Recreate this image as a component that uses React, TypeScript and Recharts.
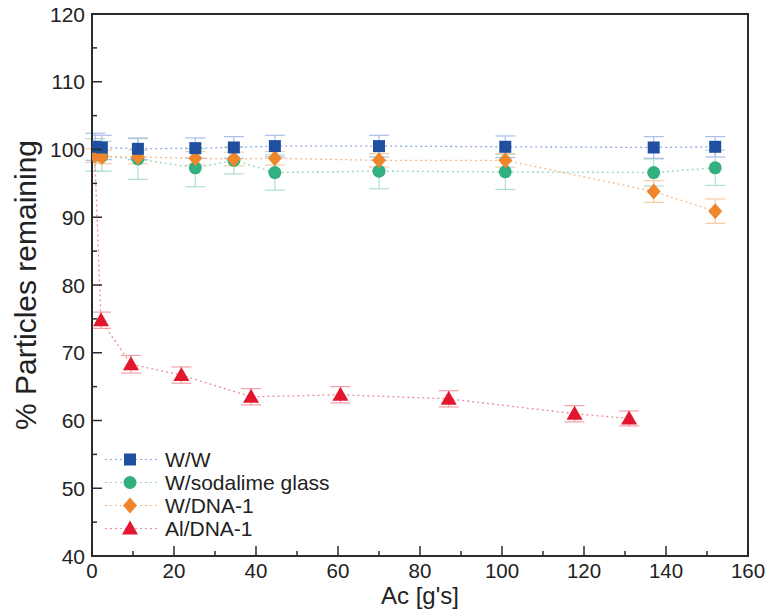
import React from "react";
import {
  ScatterChart, Scatter, XAxis, YAxis, ErrorBar, ReferenceArea, Legend, Label,
} from "recharts";

// acceleration [g's] for the three W runs and the Al run
const accelW = [0.8, 2.4, 11.2, 25.2, 34.6, 44.6, 70, 100.8, 137, 152];
const accelAl = [0.6, 2.2, 9.5, 21.8, 38.8, 60.6, 87, 117.7, 131];

const wwValues = [100.4, 100.3, 100.1, 100.2, 100.3, 100.5, 100.5, 100.4, 100.3, 100.4];
const wwErr = [2, 1.8, 1.6, 1.5, 1.6, 1.6, 1.6, 1.6, 1.6, 1.5];
const sodaValues = [99.2, 99.0, 98.6, 97.3, 98.4, 96.6, 96.8, 96.7, 96.6, 97.3];
const sodaErr = [2.4, 2.2, 3, 2.8, 2, 2.6, 2.6, 2.6, 2, 2.6];
const dnaValues = [99.1, 98.9, 98.9, 98.7, 98.6, 98.7, 98.4, 98.4, 93.8, 90.9];
const dnaErr = [1, 1, 1, 1, 1, 1, 1, 1, 1.6, 1.8];
const alValues = [100, 74.8, 68.3, 66.7, 63.5, 63.8, 63.2, 61, 60.3];
const alErr = [0, 1.2, 1.3, 1.2, 1.2, 1.2, 1.2, 1.2, 1.1];

const xTicks = [0, 10, 20, 30, 40, 50, 60, 70, 80, 90, 100, 110, 120, 130, 140, 150, 160];
const yTicks = [40, 45, 50, 55, 60, 65, 70, 75, 80, 85, 90, 95, 100, 105, 110, 115, 120];

const AXIS = "#2b2b2b";
const FONT = "'Liberation Sans', Arial, sans-serif";

const toRows = (xs: number[], ys: number[], errs: number[]) =>
  xs.map((x, i) => ({ x, y: ys[i], err: errs[i] }));

const Marker = ({ kind, cx, cy, color }: { kind: string; cx: number; cy: number; color: string }) => {
  if (kind === "square") return <rect x={cx - 6} y={cy - 6} width={12} height={12} fill={color} />;
  if (kind === "circle") return <circle cx={cx} cy={cy} r={6.5} fill={color} />;
  if (kind === "diamond")
    return <polygon points={`${cx},${cy - 8} ${cx + 7},${cy} ${cx},${cy + 8} ${cx - 7},${cy}`} fill={color} />;
  return <polygon points={`${cx},${cy - 8} ${cx + 8},${cy + 6} ${cx - 8},${cy + 6}`} fill={color} />;
};

const series = [
  { name: "W/W", kind: "square", color: "#1f4f9e", line: "#8ea8e6", err: "#a9bde8", data: toRows(accelW, wwValues, wwErr) },
  { name: "W/sodalime glass", kind: "circle", color: "#33b07f", line: "#97d6b6", err: "#b0e0c6", data: toRows(accelW, sodaValues, sodaErr) },
  { name: "W/DNA-1", kind: "diamond", color: "#f0862c", line: "#f5b98a", err: "#f8cca6", data: toRows(accelW, dnaValues, dnaErr) },
  { name: "Al/DNA-1", kind: "triangle", color: "#e2162c", line: "#ef8a94", err: "#f2a0a8", data: toRows(accelAl, alValues, alErr) },
];

const XTick = ({ x, y, payload }: any) => {
  const major = payload.value % 20 === 0;
  return (
    <g>
      <line x1={x} x2={x} y1={y} y2={y - (major ? 10 : 5)} stroke={AXIS} strokeWidth={1.5} />
      {major && (
        <text x={x} y={y + 21.5} textAnchor="middle" fontSize={20.5} fontFamily={FONT} fill="#222">
          {payload.value}
        </text>
      )}
    </g>
  );
};

const YTick = ({ x, y, payload }: any) => {
  const major = payload.value % 10 === 0;
  return (
    <g>
      <line x1={x} x2={x + (major ? 10 : 5)} y1={y} y2={y} stroke={AXIS} strokeWidth={1.5} />
      {major && (
        <text x={x - 7} y={y + 7.5} textAnchor="end" fontSize={21} fontFamily={FONT} fill="#222">
          {payload.value}
        </text>
      )}
    </g>
  );
};

const renderLegend = () => (
  <svg width={260} height={95} style={{ overflow: "visible", display: "block" }}>
    {series.map((s, i) => {
      const cy = 11.5 + i * 23;
      return (
        <g key={s.name}>
          <line x1={5} x2={60} y1={cy} y2={cy} stroke={s.line} strokeWidth={1.2} strokeDasharray="2 3" />
          <Marker kind={s.kind} cx={30} cy={cy} color={s.color} />
          <text x={65} y={cy + 7.5} fontSize={21} fontFamily={FONT} fill="#222">{s.name}</text>
        </g>
      );
    })}
  </svg>
);

export default function App() {
  // draw red first so the W/W squares sit on top, as in the original
  const drawOrder = [series[3], series[1], series[2], series[0]];
  return (
    <div style={{ position: "absolute", left: 0, top: 0, background: "#fff" }}>
      <ScatterChart width={765} height={609} margin={{ top: 14, right: 17, bottom: 0, left: 0 }}>
        <XAxis
          type="number"
          dataKey="x"
          domain={[0, 160]}
          ticks={xTicks}
          interval={0}
          allowDataOverflow
          height={53}
          tickSize={0}
          tickMargin={0}
          tickLine={false}
          axisLine={{ stroke: AXIS, strokeWidth: 2 }}
          tick={<XTick />}
        >
          <Label
            content={() => (
              <text x={420} y={604} textAnchor="middle" fontSize={24} fontFamily={FONT} fill="#222">
                Ac [g's]
              </text>
            )}
          />
        </XAxis>
        <YAxis
          type="number"
          dataKey="y"
          domain={[40, 120]}
          ticks={yTicks}
          interval={0}
          allowDataOverflow
          width={92}
          tickSize={0}
          tickMargin={0}
          tickLine={false}
          axisLine={{ stroke: AXIS, strokeWidth: 2 }}
          tick={<YTick />}
        >
          <Label
            content={() => (
              <text
                x={25}
                y={285}
                transform="rotate(-90 25 285)"
                textAnchor="middle"
                dominantBaseline="central"
                fontSize={30}
                fontFamily={FONT}
                fill="#222"
              >
                % Particles remaining
              </text>
            )}
          />
        </YAxis>
        <ReferenceArea x1={0} x2={160} y1={40} y2={120} fill="none" stroke={AXIS} strokeWidth={2} />
        {drawOrder.map((s) => (
          <Scatter
            key={s.name}
            name={s.name}
            data={s.data}
            isAnimationActive={false}
            line={{ stroke: s.line, strokeWidth: 1.3, strokeDasharray: "2 3" }}
            lineJointType="linear"
            shape={(p: any) => <Marker kind={s.kind} cx={p.cx} cy={p.cy} color={s.color} />}
          >
            <ErrorBar dataKey="err" direction="y" width={10} stroke={s.err} strokeWidth={1.2} />
          </Scatter>
        ))}
        <Legend
          content={renderLegend}
          wrapperStyle={{ position: "absolute", left: 100, top: 448, width: 260, height: 0, overflow: "visible" }}
        />
      </ScatterChart>
    </div>
  );
}
